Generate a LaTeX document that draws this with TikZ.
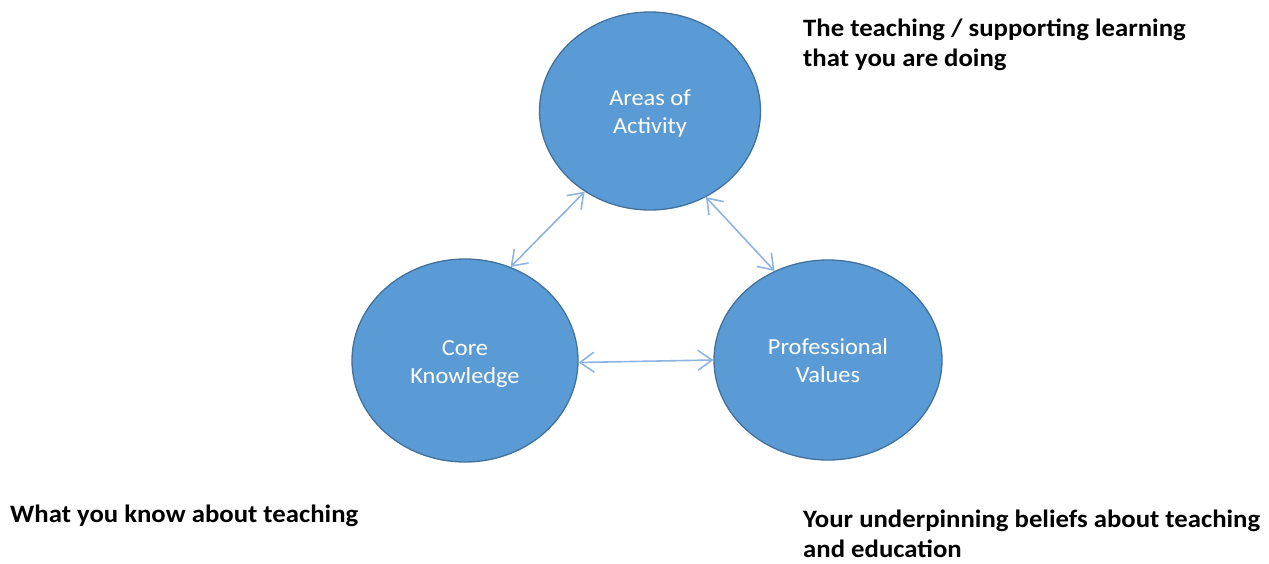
\documentclass[tikz,border=0pt]{standalone}
\usepackage{fontspec}
\setmainfont{Carlito}
\newfontfamily\widefont[FakeStretch=1.06]{Carlito}
\newfontfamily\widebold[FakeStretch=1.07,UprightFont=*-Bold]{Carlito}
\usetikzlibrary{shapes.geometric,arrows.meta}
\definecolor{circfill}{HTML}{5B9BD5}
\definecolor{circline}{HTML}{41719C}
\definecolor{arrowcol}{HTML}{8DB4E2}
\newcommand\bubtext[2]{\raisebox{-#1}[\height][\depth]{\begin{tabular}{@{}c@{}}#2\end{tabular}}}
\tikzset{
  bubble/.style={ellipse, draw=circline, line width=1.3pt, fill=circfill, inner sep=0pt,
    text=white, font=\widefont\fontsize{23}{28}\selectfont},
  link/.style={draw=arrowcol, line width=1.6pt, {Straight Barb[length=14pt,width=20pt,line width=1.6pt]}-{Straight Barb[length=14pt,width=20pt,line width=1.6pt]}},
  caption/.style={inner sep=0pt, align=left, anchor=north west, text=black,
    font=\widebold\fontsize{25}{30}\selectfont}
}
\begin{document}
\begin{tikzpicture}[x=1pt,y=-1pt]
\useasboundingbox (0,0) rectangle (1269,563);
\node[bubble, minimum width=221pt, minimum height=198pt] (act) at (650,111) {\bubtext{3pt}{Areas of\\Activity}};
\node[bubble, minimum width=226pt, minimum height=203pt] (core) at (465,360.5) {\bubtext{3pt}{Core\\Knowledge}};
\node[bubble, minimum width=228pt, minimum height=200pt] (val) at (828,360) {\bubtext{3pt}{Professional\\Values}};
\draw[link] (act.231) -- (core.64);
\draw[link] (act.-57) -- (val.121);
\draw[link] (core.-1) -- (val.180);
\node[caption] (t1) at (803,18.5) {The teaching / supporting learning\\that you are doing};
\node[caption] (t2) at (10,505) {What you know about teaching};
\node[caption] (t3) at (803,510) {Your underpinning beliefs about teaching\\and education};
\end{tikzpicture}
\end{document}
